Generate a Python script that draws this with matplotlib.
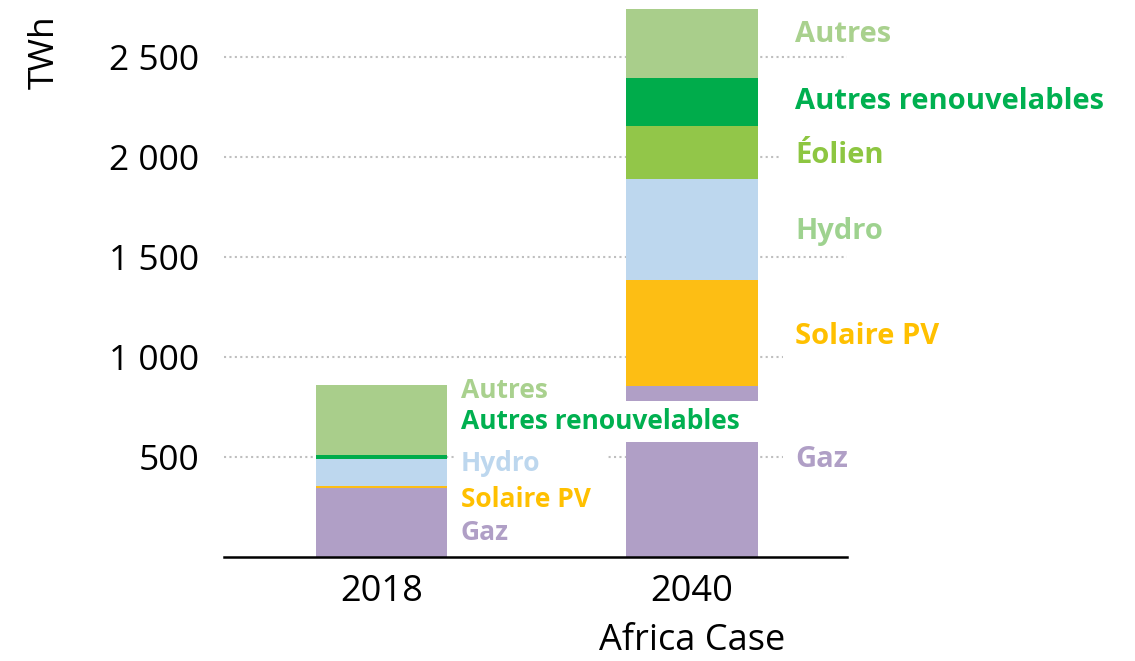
import matplotlib
matplotlib.use("Agg")
import matplotlib.pyplot as plt
from matplotlib.path import Path
import numpy as np

# ---- data ----
categories = ["2018", "2040\nAfrica Case"]
series = ["Gaz", "Solaire PV", "Hydro", "Éolien", "Autres renouvelables", "Autres"]
gaz = [347, 857]
solaire = [10, 528]
hydro = [133, 505]
eolien = [0, 265]
autres_ren = [20, 240]
autres = [350, 345]
values = [gaz, solaire, hydro, eolien, autres_ren, autres]
colors = ["#B09FC6", "#FDBE14", "#BDD7EE", "#92C649", "#00AC4B", "#A9CE8B"]
yticks = [500, 1000, 1500, 2000, 2500]

# labels: (text, y position, colour)
labels_2018 = [("Autres", 832, "#A9D18E"), ("Autres renouvelables", 678, "#00B050"),
               ("Hydro", 467, "#BDD7EE"), ("Solaire PV", 287, "#FFC000"), ("Gaz", 122, "#B09FC6")]
labels_2040 = [("Autres", 2610, "#A9D18E"), ("Autres renouvelables", 2280, "#00B050"),
               ("Éolien", 2010, "#8DC641"), ("Hydro", 1630, "#9ED28F"),
               ("Solaire PV", 1105, "#FFC000"), ("Gaz", 487, "#B09FC6")]
# box pads (left, right, bottom, top) in pixels
pads_2018 = {"Autres renouvelables": (6, 20, 7, 7), "Hydro": (6, 66, 4, 4)}
pads_2040 = {"Éolien": (14, 6, 6, 4), "Solaire PV": (12, 6, 22, 4), "Gaz": (12, 6, 6, 4)}

plt.rcParams['font.family'] = ['Open Sans', 'DejaVu Sans']

fig = plt.figure(figsize=(11.35, 6.61), dpi=100)
ax = fig.add_axes([224/1135, 1-557/661, 623/1135, 550/661])

x = np.arange(len(categories))
width = 0.422
bottom = np.zeros(len(categories))
for vals, c in zip(values, colors):
    ax.bar(x, vals, width, bottom=bottom, color=c, zorder=2, linewidth=0)
    bottom += np.array(vals)

ax.set_xlim(-0.507, 1.499)
ax.set_ylim(0, 2750)
ax.set_yticks(yticks)
ax.set_yticklabels([f"{v:,}".replace(",", " ") for v in yticks], fontsize=25.5)
ax.set_xticks(x)
ax.set_xticklabels(categories, fontsize=26, linespacing=1.5)
ax.tick_params(axis='both', length=0)
ax.tick_params(axis='y', pad=18)
ax.tick_params(axis='x', pad=12)
ax.yaxis.grid(True, linestyle=(0, (1, 1.6)), color="#BFBFBF", linewidth=1.5, zorder=0)
ax.set_axisbelow(True)
for s in ["left", "right", "top"]:
    ax.spines[s].set_visible(False)
ax.spines["bottom"].set_linewidth(1.8)
ax.spines["bottom"].set_zorder(5)
ax.set_ylabel("TWh", fontsize=25.5, labelpad=0)
ax.yaxis.set_label_coords(-0.261, 0.918)


def make_box(l, r, b, t):
    def box(x0, y0, w, h, mutation_size):
        xs = [x0 - l, x0 + w + r, x0 + w + r, x0 - l, x0 - l]
        ys = [y0 - b, y0 - b, y0 + h + t, y0 + h + t, y0 - b]
        return Path(np.column_stack([xs, ys]), closed=True)
    return box


def add_labels(lbls, xpos, pads, fs):
    for txt, yv, col in lbls:
        p = pads.get(txt, (4, 4, 3, 3))
        ax.text(xpos, yv, txt, color=col, fontsize=fs, fontweight='bold',
                va='center', ha='left', zorder=4, clip_on=False,
                bbox=dict(boxstyle=make_box(*p), fc='white', ec='none'))


add_labels(labels_2018, 0 + width/2 + 0.045, pads_2018, 19)
add_labels(labels_2040, 1 + width/2 + 0.122, pads_2040, 21)

fig.savefig("out.png", dpi=100)
